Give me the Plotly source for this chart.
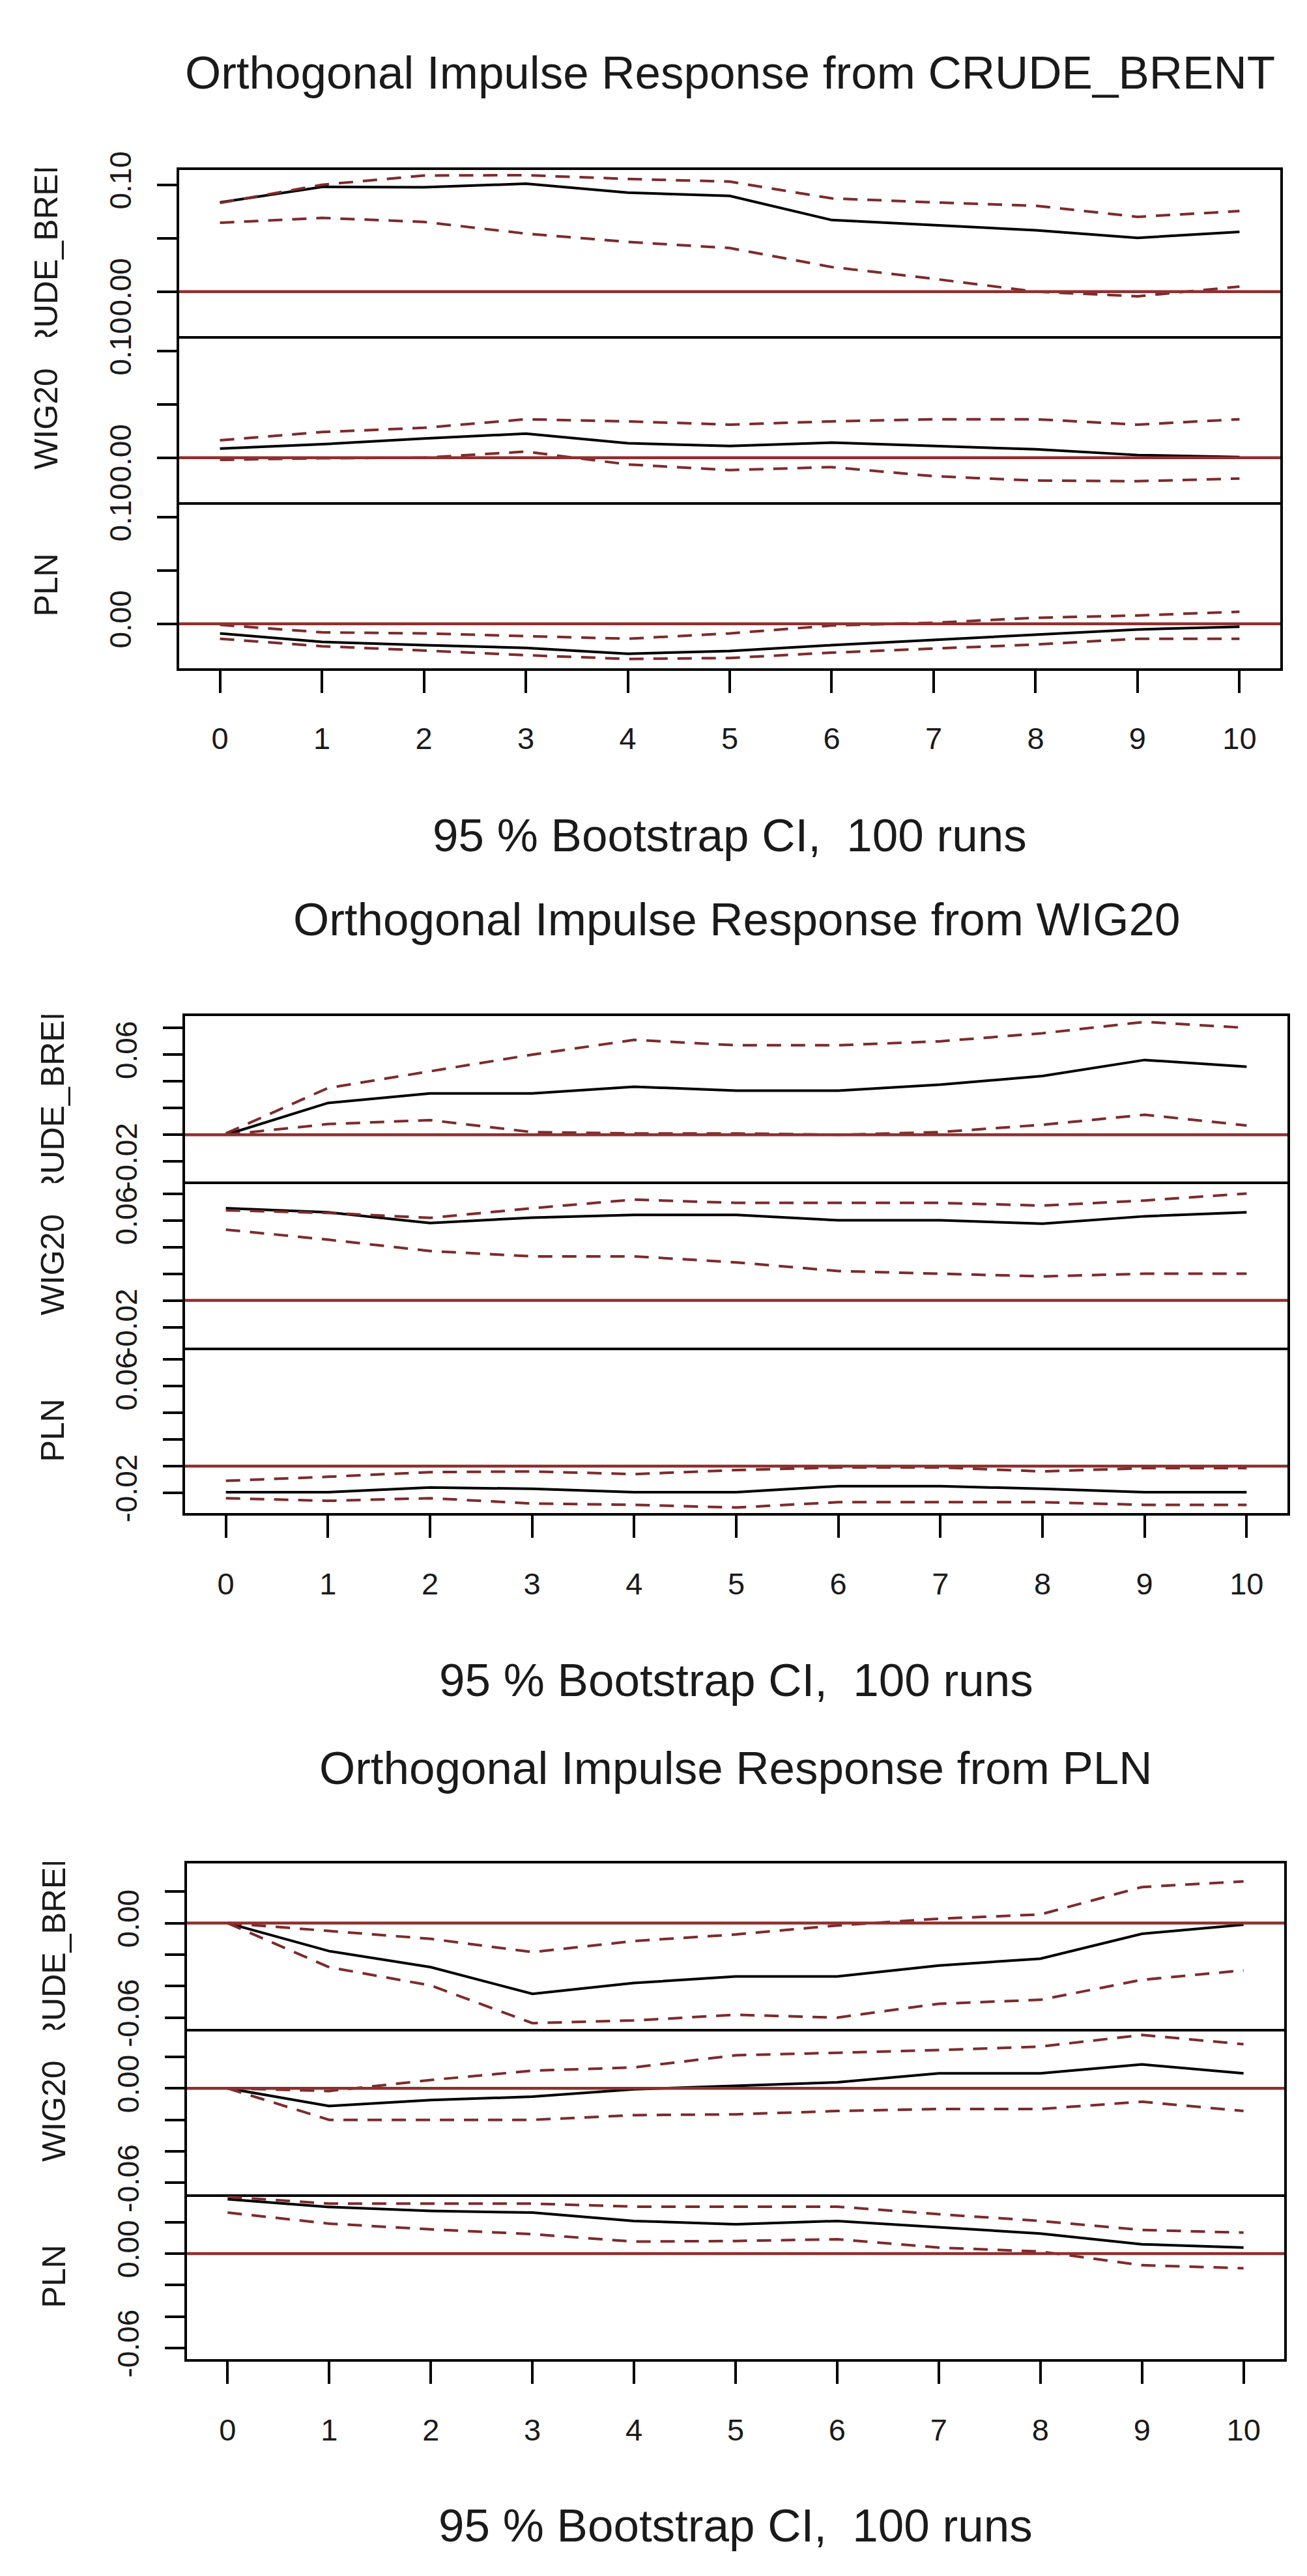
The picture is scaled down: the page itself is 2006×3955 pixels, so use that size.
import plotly.graph_objects as go

# ---------------- data ----------------
horizon = list(range(11))
x_tick_labels = [str(h) for h in horizon]
response_names = ["CRUDE_BRENT", "WIG20", "PLN"]
impulse_names = ["CRUDE_BRENT", "WIG20", "PLN"]

# impulse CRUDE_BRENT
cb_cb = [0.0835, 0.098, 0.0977, 0.101, 0.0927, 0.0896, 0.067, 0.0622, 0.0575, 0.0503, 0.0559]
cb_cb_hi = [0.0830, 0.100, 0.1087, 0.109, 0.1055, 0.103, 0.0873, 0.0835, 0.0804, 0.070, 0.0754]
cb_cb_lo = [0.0644, 0.069, 0.0653, 0.0543, 0.0465, 0.0408, 0.023, 0.012, 0.000, -0.0044, 0.0047]
cb_wig = [0.0085, 0.0126, 0.0179, 0.0226, 0.0135, 0.011, 0.0141, 0.011, 0.0079, 0.0025, 0.0006]
cb_wig_hi = [0.0163, 0.024, 0.028, 0.036, 0.034, 0.031, 0.034, 0.036, 0.036, 0.031, 0.036]
cb_wig_lo = [-0.002, -0.0005, 0.000, 0.0057, -0.0063, -0.0116, -0.0088, -0.0173, -0.0214, -0.022, -0.0195]
cb_pln = [-0.009, -0.017, -0.020, -0.0225, -0.028, -0.0254, -0.020, -0.0153, -0.010, -0.0053, -0.0028]
cb_pln_hi = [-0.001, -0.008, -0.009, -0.0116, -0.014, -0.009, -0.0016, 0.001, 0.0056, 0.0078, 0.0113]
cb_pln_lo = [-0.014, -0.021, -0.025, -0.0294, -0.0329, -0.032, -0.027, -0.023, -0.0194, -0.014, -0.014]

# impulse WIG20
wig_cb = [0.0, 0.0238, 0.031, 0.031, 0.036, 0.033, 0.033, 0.0375, 0.044, 0.056, 0.051]
wig_cb_hi = [0.001, 0.035, 0.0475, 0.060, 0.071, 0.067, 0.067, 0.070, 0.076, 0.0845, 0.080]
wig_cb_lo = [0.0, 0.008, 0.011, 0.002, 0.001, 0.001, 0.0, 0.002, 0.0075, 0.015, 0.007]
wig_wig = [0.069, 0.066, 0.058, 0.062, 0.064, 0.064, 0.060, 0.060, 0.0575, 0.063, 0.066]
wig_wig_hi = [0.0675, 0.0655, 0.0618, 0.069, 0.0755, 0.073, 0.073, 0.073, 0.071, 0.0748, 0.080]
wig_wig_lo = [0.053, 0.0455, 0.037, 0.033, 0.033, 0.0285, 0.022, 0.020, 0.018, 0.020, 0.020]
wig_pln = [-0.0195, -0.0195, -0.016, -0.017, -0.0195, -0.0195, -0.015, -0.015, -0.017, -0.0195, -0.0195]
wig_pln_hi = [-0.011, -0.008, -0.0045, -0.004, -0.006, -0.003, -0.001, -0.001, -0.004, -0.0015, -0.0015]
wig_pln_lo = [-0.024, -0.026, -0.024, -0.028, -0.029, -0.031, -0.027, -0.027, -0.027, -0.029, -0.029]

# impulse PLN
pln_cb = [0.0, -0.0178, -0.028, -0.0449, -0.038, -0.0339, -0.0339, -0.0269, -0.0226, -0.0068, -0.001]
pln_cb_hi = [0.0, -0.005, -0.010, -0.0184, -0.0114, -0.0072, -0.0015, 0.0028, 0.0055, 0.0229, 0.0265]
pln_cb_lo = [0.0, -0.028, -0.0396, -0.0635, -0.0618, -0.0582, -0.060, -0.0512, -0.0487, -0.036, -0.030]
pln_wig = [0.0, -0.0112, -0.0074, -0.0053, -0.0006, 0.0017, 0.0038, 0.0095, 0.0095, 0.0152, 0.0095]
pln_wig_hi = [0.0, -0.0017, 0.0053, 0.0112, 0.0133, 0.021, 0.0226, 0.0243, 0.0265, 0.0339, 0.028]
pln_wig_lo = [0.0, -0.020, -0.020, -0.020, -0.017, -0.0165, -0.0144, -0.0131, -0.0131, -0.0085, -0.0144]
pln_pln = [0.0345, 0.0296, 0.0271, 0.026, 0.0207, 0.0186, 0.0207, 0.0169, 0.0127, 0.0059, 0.0038]
pln_pln_hi = [0.036, 0.0317, 0.0317, 0.0317, 0.0298, 0.0298, 0.0298, 0.025, 0.0207, 0.015, 0.0133]
pln_pln_lo = [0.026, 0.019, 0.0154, 0.0123, 0.0076, 0.008, 0.0091, 0.0038, 0.0013, -0.0074, -0.0093]

# y tick values / labels per impulse panel
p1_ytickvals = [0.0, 0.05, 0.10]
p1_yticktext = ["0.00", "", "0.10"]
p2_ytickvals = [-0.02, 0.0, 0.02, 0.04, 0.06, 0.08]
p2_yticktext = ["-0.02", "", "", "", "0.06", ""]
p3_ytickvals = [-0.06, -0.04, -0.02, 0.0, 0.02]
p3_yticktext = ["-0.06", "", "", "0.00", ""]
p1_yrange = [-0.0415, 0.114]
p2_yrange = [-0.0352, 0.0888]
p3_yrange = [-0.0672, 0.0377]

subtitle_text = "95 % Bootstrap CI,\u00a0 100 runs"

# ---------------- assemble ----------------
series = [
    [(cb_cb, cb_cb_hi, cb_cb_lo), (cb_wig, cb_wig_hi, cb_wig_lo), (cb_pln, cb_pln_hi, cb_pln_lo)],
    [(wig_cb, wig_cb_hi, wig_cb_lo), (wig_wig, wig_wig_hi, wig_wig_lo), (wig_pln, wig_pln_hi, wig_pln_lo)],
    [(pln_cb, pln_cb_hi, pln_cb_lo), (pln_wig, pln_wig_hi, pln_wig_lo), (pln_pln, pln_pln_hi, pln_pln_lo)],
]
yticks = [(p1_ytickvals, p1_yticktext), (p2_ytickvals, p2_yticktext), (p3_ytickvals, p3_yticktext)]
yranges = [p1_yrange, p2_yrange, p3_yrange]

W, H = 2006, 3955
FONT = "Liberation Sans, Arial, Helvetica, sans-serif"
TXT = "#1a1a1a"
RED = "#7d2b2b"
ZERO = "#8f2f2f"

# panel geometry in pixels: left, right, top, bottom
geom = [
    (267, 1957, 228, 1004),
    (276, 1968, 1546, 2320),
    (279, 1963, 2866, 3638),
]
title_y = [77, 1395, 2717]
subtitle_y = [1264, 2580, 3897]
varname_x = [63, 73, 75]

fig = go.Figure()
layout = dict(
    width=W, height=H,
    margin=dict(l=0, r=0, t=0, b=0),
    paper_bgcolor="white", plot_bgcolor="rgba(0,0,0,0)",
    showlegend=False,
    font=dict(family=FONT, color=TXT),
)
shapes = []
annotations = []

for p in range(3):
    L, R, T, B = geom[p]
    hsub = (B - T) / 3.0
    for s in range(3):
        idx = p * 3 + s + 1
        suf = "" if idx == 1 else str(idx)
        xa, ya = "x" + suf, "y" + suf
        top = T + s * hsub
        bot = top + hsub
        last = (s == 2)
        layout["xaxis" + suf] = dict(
            domain=[L / W, R / W], range=[-0.4, 10.4], anchor=ya,
            showgrid=False, zeroline=False,
            showline=True, mirror=(s == 0), linecolor="black", linewidth=4,
            tickmode="array", tickvals=horizon, ticktext=x_tick_labels,
            ticks="outside" if last else "", ticklen=34, tickwidth=4, tickcolor="black",
            showticklabels=last, ticklabelstandoff=30,
            tickfont=dict(family=FONT, size=47, color=TXT),
        )
        tv, tt = yticks[p]
        layout["yaxis" + suf] = dict(
            domain=[1 - bot / H, 1 - top / H], range=yranges[p], anchor=xa,
            showgrid=False, zeroline=False,
            showline=True, mirror=True, linecolor="black", linewidth=4,
            tickmode="array", tickvals=tv, ticktext=tt,
            ticks="outside", ticklen=30, tickwidth=4, tickcolor="black",
            tickangle=-90, ticklabelstandoff=22,
            tickfont=dict(family=FONT, size=46, color=TXT),
        )
        main, hi, lo = series[p][s]
        fig.add_trace(go.Scatter(x=horizon, y=main, xaxis=xa, yaxis=ya, mode="lines",
                                 line=dict(color="black", width=4), hoverinfo="skip"))
        for band in (hi, lo):
            fig.add_trace(go.Scatter(x=horizon, y=band, xaxis=xa, yaxis=ya, mode="lines",
                                     line=dict(color=RED, width=4, dash="22px,15px"),
                                     hoverinfo="skip"))
        shapes.append(dict(type="line", xref=xa + " domain", yref=ya, x0=0, x1=1, y0=0, y1=0,
                           line=dict(color=ZERO, width=4.5), layer="above"))
        # response variable name (clipped to the sub-panel height, like R)
        annotations.append(dict(
            text=response_names[s], textangle=-90, showarrow=False,
            xref="paper", yref="paper",
            x=varname_x[p] / W, y=1 - (top + bot) / 2 / H,
            xanchor="center", yanchor="middle",
            width=hsub, height=64, align="center",
            font=dict(family=FONT, size=50, color=TXT),
        ))
    cx = (L + R) / 2 / W
    annotations.append(dict(
        text="Orthogonal Impulse Response from " + impulse_names[p], showarrow=False,
        xref="paper", yref="paper", x=cx, y=1 - title_y[p] / H,
        xanchor="center", yanchor="middle",
        font=dict(family=FONT, size=71, color=TXT),
    ))
    annotations.append(dict(
        text=subtitle_text, showarrow=False,
        xref="paper", yref="paper", x=cx, y=1 - subtitle_y[p] / H,
        xanchor="center", yanchor="middle",
        font=dict(family=FONT, size=71, color=TXT),
    ))

layout["shapes"] = shapes
layout["annotations"] = annotations
fig.update_layout(**layout)
fig.write_html("out.html")
